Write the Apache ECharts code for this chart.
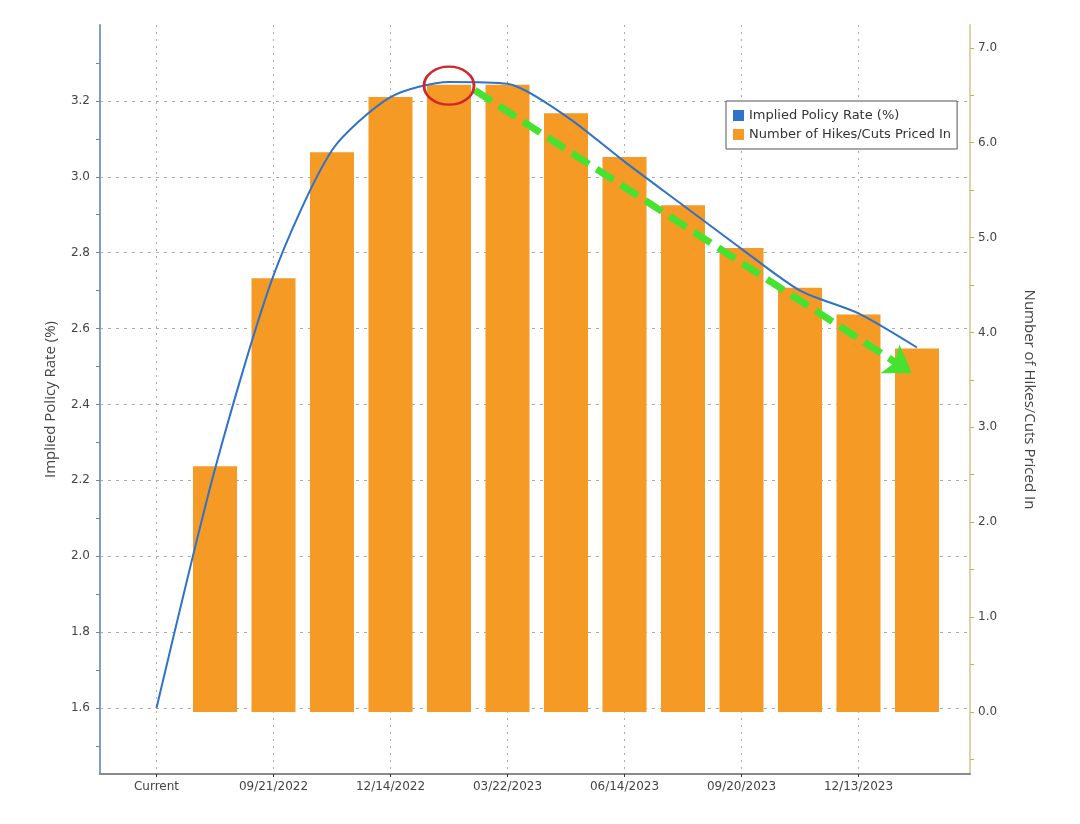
<!DOCTYPE html>
<html>
<head>
<meta charset="utf-8">
<script src="https://cdn.jsdelivr.net/npm/echarts@6/dist/echarts.min.js"></script>
<style>
  html, body { margin: 0; padding: 0; background: #fff; }
  #chart { width: 1080px; height: 824px; }
</style>
</head>
<body>
<div id="chart"></div>
<script>
  const categories = ["Current", "07/27/2022", "09/21/2022", "11/02/2022", "12/14/2022", "02/01/2023", "03/22/2023",
    "05/03/2023", "06/14/2023", "07/26/2023", "09/20/2023", "11/01/2023", "12/13/2023", "01/31/2024"];
  const impliedRate = [1.60, 2.23, 2.74, 3.07, 3.21, 3.25, 3.245, 3.16, 3.04, 2.925, 2.81, 2.70, 2.64, 2.55];
  const hikesPriced = [0, 2.59, 4.57, 5.90, 6.48, 6.61, 6.61, 6.31, 5.85, 5.34, 4.89, 4.47, 4.19, 3.83];
  const labelledIdx = [0, 2, 4, 6, 8, 10, 12];
  const rateTicks = [1.6, 1.8, 2.0, 2.2, 2.4, 2.6, 2.8, 3.0, 3.2];
  const rateMinorTicks = [1.5, 1.6, 1.7, 1.8, 1.9, 2.0, 2.1, 2.2, 2.3, 2.4, 2.5, 2.6, 2.7, 2.8, 2.9, 3.0, 3.1, 3.2, 3.3];
  const hikeTicks = [0, 1, 2, 3, 4, 5, 6, 7];
  const hikeMinorTicks = [-0.5, 0, 0.5, 1, 1.5, 2, 2.5, 3, 3.5, 4, 4.5, 5, 5.5, 6, 6.5, 7];
  // annotation: green trend arrow and circled peak
  const trendArrow = [[5.44, 3.228], [12.91, 2.483]];
  const peakMark = [5, 3.24];

  const chart = echarts.init(document.getElementById("chart"));
  const font = "DejaVu Sans";
  const rateRange = { min: 1.426, max: 3.4 };

  chart.setOption({
    animation: false,
    backgroundColor: "#fff",
    textStyle: { fontFamily: font },
    grid: { left: 100, top: 25, right: 110, bottom: 50 },
    legend: {
      orient: "vertical",
      left: 726,
      top: 101,
      padding: [8, 6, 8, 7],
      itemGap: 6,
      itemWidth: 11,
      itemHeight: 11,
      backgroundColor: "#fff",
      borderColor: "#555",
      borderWidth: 1,
      textStyle: { fontFamily: font, fontSize: 13, color: "#333" },
      data: [
        { name: "Implied Policy Rate (%)", icon: "rect", itemStyle: { color: "#2f72c9" } },
        { name: "Number of Hikes/Cuts Priced In", icon: "rect", itemStyle: { color: "#f49a25" } }
      ]
    },
    xAxis: {
      type: "value",
      min: -0.966,
      max: 13.906,
      axisLine: { show: true, onZero: false, lineStyle: { color: "#8a8a8a", width: 2 } },
      axisTick: { show: true, length: 3, customValues: labelledIdx, lineStyle: { color: "#333" } },
      axisLabel: {
        customValues: labelledIdx,
        formatter: function (v) { return categories[Math.round(v)] || ""; },
        color: "#444",
        fontFamily: font,
        fontSize: 12,
        margin: 7
      },
      splitLine: { show: true, lineStyle: { color: "#aaa", type: [2, 5], width: 1 } }
    },
    yAxis: [
      {
        type: "value",
        position: "left",
        min: rateRange.min,
        max: rateRange.max,
        name: "Implied Policy Rate (%)",
        nameLocation: "middle",
        nameGap: 42,
        nameTextStyle: { fontFamily: "Open Sans", fontSize: 15, color: "#444" },
        axisLine: { show: true, onZero: false, lineStyle: { color: "#7f9ec0", width: 2 } },
        axisTick: { show: true, length: 4, customValues: rateMinorTicks, lineStyle: { color: "#6c86a3" } },
        axisLabel: {
          customValues: rateTicks,
          formatter: function (v) { return v.toFixed(1); },
          color: "#444",
          fontFamily: font,
          fontSize: 12,
          margin: 10
        },
        splitLine: { show: false }
      },
      {
        type: "value",
        position: "right",
        min: -0.654,
        max: 7.24,
        name: "Number of Hikes/Cuts Priced In",
        nameLocation: "middle",
        nameRotate: -90,
        nameGap: 52,
        nameTextStyle: { fontFamily: "Open Sans", fontSize: 15, color: "#444" },
        axisLine: { show: true, onZero: false, lineStyle: { color: "#ddd3a6", width: 2 } },
        axisTick: { show: true, length: 4, customValues: hikeMinorTicks, lineStyle: { color: "#b9ad6a" } },
        axisLabel: {
          customValues: hikeTicks,
          formatter: function (v) { return v.toFixed(1); },
          color: "#444",
          fontFamily: font,
          fontSize: 12,
          margin: 8
        },
        splitLine: { show: false }
      },
      {
        type: "value",
        position: "left",
        min: rateRange.min,
        max: rateRange.max,
        axisLine: { show: false, onZero: false },
        axisTick: { show: false, customValues: rateTicks },
        axisLabel: { show: false, customValues: rateTicks },
        splitLine: { show: true, lineStyle: { color: "#aaa", type: [3, 5], width: 1 } }
      }
    ],
    series: [
      {
        name: "Number of Hikes/Cuts Priced In",
        type: "bar",
        yAxisIndex: 1,
        barWidth: 44,
        itemStyle: { color: "#f49a25" },
        data: hikesPriced.map(function (v, i) { return [i, v]; })
      },
      {
        name: "Implied Policy Rate (%)",
        type: "line",
        yAxisIndex: 0,
        smooth: 0.25,
        symbol: "none",
        z: 3,
        lineStyle: { color: "#2f72c9", width: 2 },
        itemStyle: { color: "#2f72c9" },
        data: impliedRate.map(function (v, i) { return [i, v]; }),
        markLine: {
          silent: true,
          symbol: ["none", "arrow"],
          symbolSize: 26,
          label: { show: false },
          lineStyle: { color: "#45e230", width: 7, type: [20, 9], opacity: 1 },
          itemStyle: { color: "#45e230" },
          emphasis: { disabled: true },
          data: [[{ coord: trendArrow[0] }, { coord: trendArrow[1] }]]
        },
        markPoint: {
          silent: true,
          symbol: "circle",
          symbolSize: [50, 38],
          label: { show: false },
          itemStyle: { color: "rgba(0,0,0,0)", borderColor: "#d0262c", borderWidth: 2.5 },
          data: [{ coord: peakMark }]
        }
      }
    ]
  });
</script>
</body>
</html>
